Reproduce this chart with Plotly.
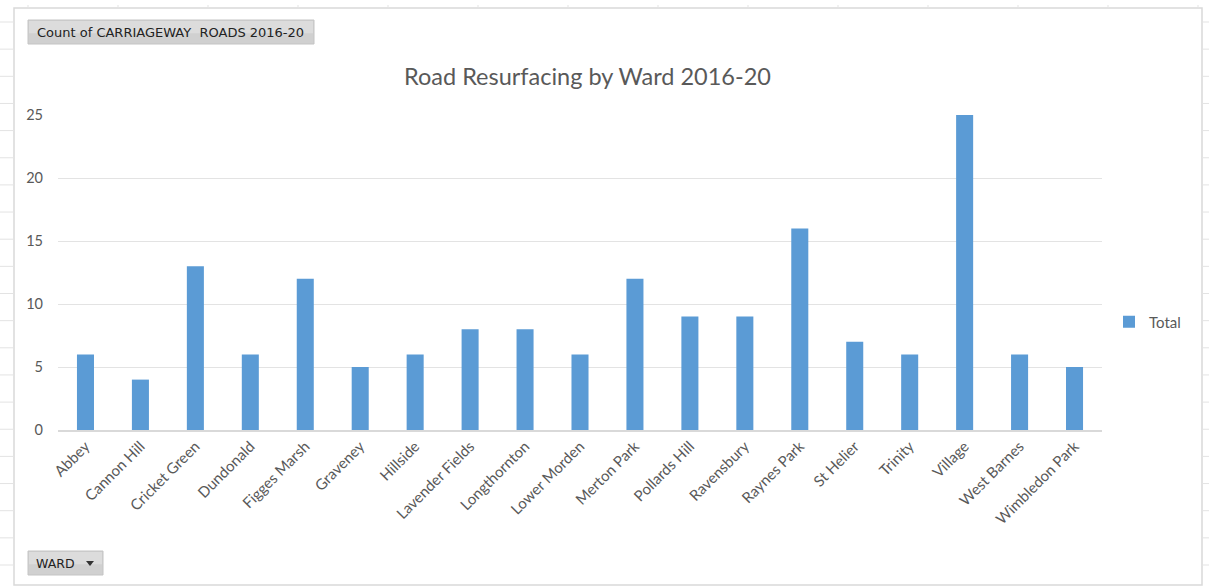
import plotly.graph_objects as go

wards = ["Abbey", "Cannon Hill", "Cricket Green", "Dundonald", "Figges Marsh",
         "Graveney", "Hillside", "Lavender Fields", "Longthornton", "Lower Morden",
         "Merton Park", "Pollards Hill", "Ravensbury", "Raynes Park", "St Helier",
         "Trinity", "Village", "West Barnes", "Wimbledon Park"]
totals = [6, 4, 13, 6, 12, 5, 6, 8, 8, 6, 12, 9, 9, 16, 7, 6, 25, 6, 5]
y_ticks = [0, 5, 10, 15, 20, 25]

W, H = 1209, 587
L, R, T, B = 58, 1102, 115, 430  # plot area in pixels

def xp(px):
    return (px - L) / (R - L)

def yp(py):
    return (B - py) / (B - T)

GREY = "#595959"
FONT = "Lato, 'Open Sans', sans-serif"

fig = go.Figure(go.Bar(
    x=wards, y=totals, name="Total",
    marker=dict(color="#5b9bd5", line=dict(width=0)),
    width=0.31,
))

shapes = []
line_col = "#d9d9d9"
# outer chart frame
shapes.append(dict(type="rect", xref="paper", yref="paper",
                   x0=xp(14), x1=xp(1202), y0=yp(585), y1=yp(8),
                   line=dict(color=line_col, width=1.5), fillcolor="rgba(0,0,0,0)", layer="below"))
# worksheet row/column marks around the frame
for i in range(21):
    py = 22 + i * 27.15
    if py > 585:
        break
    shapes.append(dict(type="line", xref="paper", yref="paper",
                       x0=xp(0), x1=xp(14), y0=yp(py), y1=yp(py),
                       line=dict(color="#e3e3e3", width=1)))
    shapes.append(dict(type="line", xref="paper", yref="paper",
                       x0=xp(1202), x1=xp(1209), y0=yp(py), y1=yp(py),
                       line=dict(color="#e3e3e3", width=1)))
for i in range(14):
    px = 28 + i * 90
    if px > 1200:
        break
    shapes.append(dict(type="line", xref="paper", yref="paper",
                       x0=xp(px), x1=xp(px), y0=yp(5), y1=yp(8),
                       line=dict(color="#e3e3e3", width=1)))

# field buttons (two-tone fill for a soft gradient)
def button(x0, x1, y0, y1):
    shapes.append(dict(type="rect", xref="paper", yref="paper",
                       x0=xp(x0), x1=xp(x1), y0=yp(y1), y1=yp(y0),
                       line=dict(color="#c4c4c4", width=1), fillcolor="#d0d0d0"))
    shapes.append(dict(type="rect", xref="paper", yref="paper",
                       x0=xp(x0 + 1), x1=xp(x1 - 1), y0=yp(y0 + (y1 - y0) * 0.55), y1=yp(y0 + 1),
                       line=dict(width=0), fillcolor="#dcdcdc"))

button(28, 314, 20, 44)
button(28, 103, 551, 575)
# dropdown arrow
shapes.append(dict(type="path", xref="paper", yref="paper",
                   path=f"M {xp(86)} {yp(561)} L {xp(94)} {yp(561)} L {xp(90)} {yp(566)} Z",
                   fillcolor="#333333", line=dict(width=0)))

annotations = [
    dict(text="Count of CARRIAGEWAY  ROADS 2016-20", xref="paper", yref="paper",
         x=xp(35), y=yp(32), xanchor="left", yanchor="middle", showarrow=False,
         font=dict(family="'DejaVu Sans', sans-serif", size=13, color="#222222")),
    dict(text="WARD", xref="paper", yref="paper",
         x=xp(34), y=yp(563), xanchor="left", yanchor="middle", showarrow=False,
         font=dict(family="'DejaVu Sans', sans-serif", size=12.5, color="#222222")),
    dict(text="Road Resurfacing by Ward 2016-20", xref="paper", yref="paper",
         x=xp(587), y=yp(76), xanchor="center", yanchor="middle", showarrow=False,
         font=dict(family=FONT, size=23.5, color=GREY)),
]

fig.update_layout(
    width=W, height=H,
    margin=dict(l=L, r=W - R, t=T, b=H - B, pad=0),
    paper_bgcolor="white", plot_bgcolor="white",
    font=dict(family=FONT, color=GREY, size=13),
    showlegend=True,
    legend=dict(x=xp(1109), y=yp(322), xanchor="left", yanchor="middle",
                font=dict(size=15, color=GREY), itemwidth=30,
                bgcolor="rgba(0,0,0,0)"),
    xaxis=dict(tickangle=-45, showgrid=False, showline=True, linecolor="#d9d9d9",
               linewidth=1.5, ticks="", tickfont=dict(size=15, color=GREY),
               fixedrange=True),
    yaxis=dict(range=[0, 25], tickvals=y_ticks, showgrid=True, gridcolor="#e3e3e3",
               gridwidth=1.3, zeroline=False, showline=False, ticks="",
               tickfont=dict(size=14.5, color=GREY), ticklabelstandoff=14,
               fixedrange=True),
    shapes=shapes,
    annotations=annotations,
)

fig.write_html("out.html")
